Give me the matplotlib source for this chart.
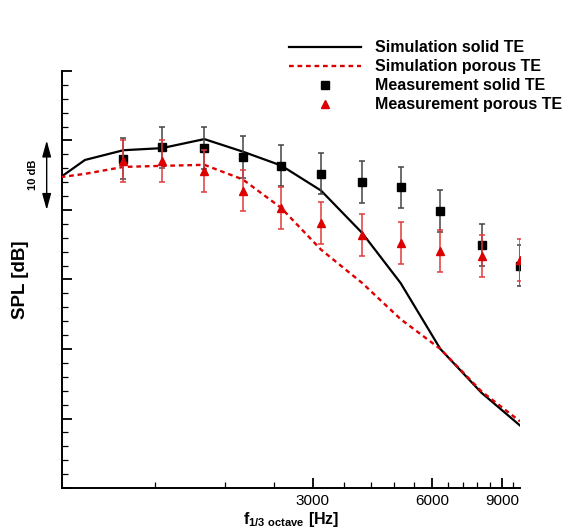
import matplotlib
matplotlib.use("Agg")
import matplotlib.pyplot as plt
import matplotlib.ticker as mticker
import matplotlib.transforms as mtrans

plt.rcParams['font.family'] = ['Liberation Sans', 'DejaVu Sans']
plt.rcParams['mathtext.fontset'] = 'custom'
plt.rcParams['mathtext.rm'] = 'Liberation Sans'
plt.rcParams['mathtext.bf'] = 'Liberation Sans:bold'

# simulation spectra (1/3 octave band centres)
f_sim = [630, 800, 1000, 1250, 1600, 2000, 2500, 3150, 4000, 5000, 6300, 8000, 10000]
spl_sim_solid = [63.0, 67.2, 68.6, 68.9, 70.2, 68.4, 66.4, 62.8, 56.7, 49.5, 40.0, 33.7, 29.0]
spl_sim_porous = [64.4, 65.2, 66.2, 66.35, 66.5, 64.4, 60.3, 54.3, 49.5, 44.3, 40.0, 33.9, 29.6]

# measurements
f_meas = [1000, 1250, 1600, 2000, 2500, 3150, 4000, 5000, 6300, 8000, 10000]
spl_meas_solid = [67.4, 69.0, 68.9, 67.6, 66.4, 65.25, 64.0, 63.25, 59.9, 55.0, 52.0]
spl_meas_porous = [67.0, 67.0, 65.6, 62.8, 60.3, 58.1, 56.4, 55.25, 54.1, 53.4, 52.8]
err_solid = [3] * len(f_meas)
err_porous = [3] * len(f_meas)

xticks_major = [3000, 6000, 9000]
xticks_minor = [1200, 1800, 2400, 3600, 4200, 4800, 5400, 6600, 7200, 7800, 8400, 9600]

red = '#dd0000'

fig = plt.figure(figsize=(5.67, 5.29), dpi=100)
ax = fig.add_axes([0.1093, 0.0775, 0.8077, 0.7883])

ax.plot(f_sim, spl_sim_solid, '-', color='black', lw=1.6, label='Simulation solid TE', zorder=3)
ax.plot(f_sim, spl_sim_porous, linestyle=(0, (2, 1.6)), color=red, lw=1.7,
        label='Simulation porous TE', zorder=3)
ax.errorbar(f_meas, spl_meas_solid, yerr=err_solid, fmt='none',
            ecolor='#444444', elinewidth=1.1, capsize=2.2, capthick=1.1, zorder=4)
ax.plot(f_meas, spl_meas_solid, 's', color='black', ms=5.8, label='Measurement solid TE', zorder=4)
ax.errorbar(f_meas, spl_meas_porous, yerr=err_porous, fmt='none',
            ecolor='#e03a3a', elinewidth=1.1, capsize=2.2, capthick=1.1, zorder=5)
ax.plot(f_meas, spl_meas_porous, '^', color=red, ms=6.2, label='Measurement porous TE', zorder=5)

ax.set_xscale('log')
ax.set_xlim(700, 10000)
ax.set_ylim(20, 80)
ax.xaxis.set_major_locator(mticker.FixedLocator(xticks_major))
ax.xaxis.set_major_formatter(mticker.FixedFormatter([str(v) for v in xticks_major]))
ax.xaxis.set_minor_locator(mticker.FixedLocator(xticks_minor))
ax.xaxis.set_minor_formatter(mticker.NullFormatter())
ax.yaxis.set_major_locator(mticker.MultipleLocator(10))
ax.yaxis.set_minor_locator(mticker.MultipleLocator(2))
ax.yaxis.set_major_formatter(mticker.NullFormatter())

ax.spines['top'].set_visible(False)
ax.spines['right'].set_visible(False)
for s in ('left', 'bottom'):
    ax.spines[s].set_linewidth(1.4)
ax.tick_params(which='major', direction='in', length=7.5, width=1.3, labelsize=11, pad=4)
ax.tick_params(which='minor', direction='in', length=4.5, width=0.9)

ax.set_ylabel('SPL [dB]', fontsize=13.5, fontweight='bold', labelpad=20)
ax.set_xlabel(r'$\mathbf{f}_{\mathbf{1/3\ octave}}$ [Hz]', fontsize=11.5, fontweight='bold', labelpad=2)

# 10 dB scale arrow left of the axis
trans = mtrans.blended_transform_factory(ax.transAxes, ax.transData)
ax.annotate('', xy=(-0.0334, 70), xytext=(-0.0334, 60), xycoords=trans, textcoords=trans,
            arrowprops=dict(arrowstyle='<|-|>,head_length=0.55,head_width=0.15', color='black',
                            lw=1.0, mutation_scale=18, shrinkA=0, shrinkB=0),
            annotation_clip=False)
ax.text(-0.0633, 65, '10 dB', transform=trans, rotation=90, fontsize=8, fontweight='bold',
        ha='center', va='center')

leg = ax.legend(loc='upper left', bbox_to_anchor=(0.488, 0.9476), bbox_transform=fig.transFigure,
                frameon=False, handlelength=4.5, handletextpad=0.88, labelspacing=0.25,
                borderpad=0.3, numpoints=1, prop={'weight': 'bold', 'size': 11.5})

fig.savefig('out.png', dpi=100)
